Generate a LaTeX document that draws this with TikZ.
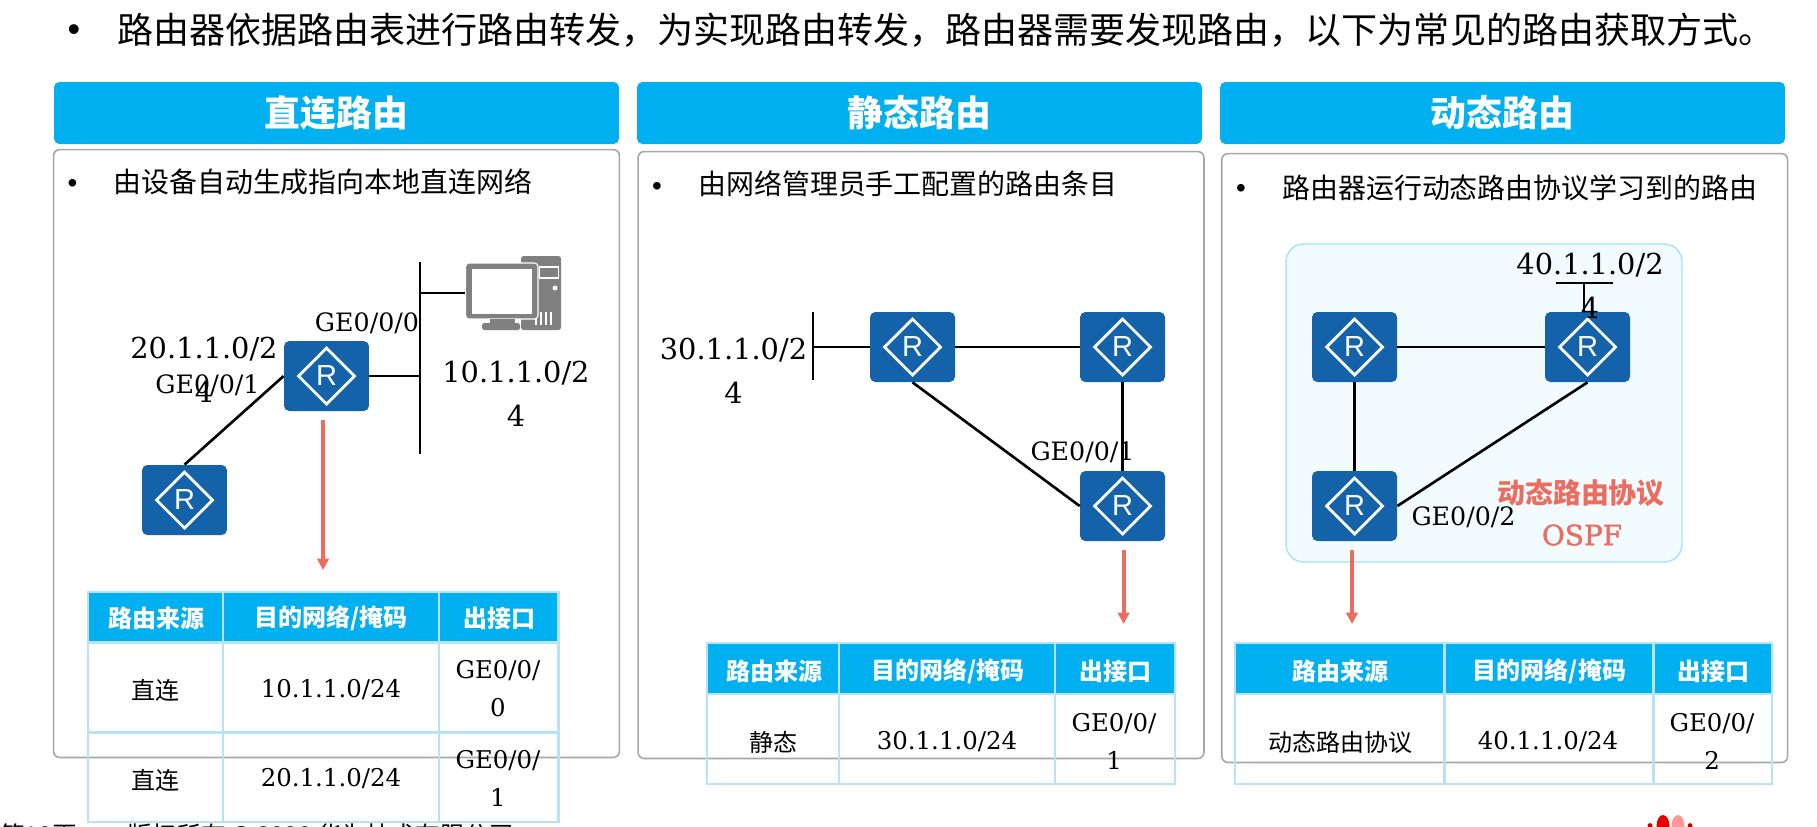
\documentclass[tikz,border=0pt]{standalone}
\usepackage{fontspec}
\usetikzlibrary{arrows.meta}
\setmainfont{DejaVu Serif}
\newfontfamily\cjk{Noto Sans CJK SC}
\newfontfamily\serifheavy[FakeBold=1.5]{DejaVu Serif}
\newfontfamily\arial{Liberation Sans}
\definecolor{headblue}{RGB}{0,176,240}
\definecolor{routerblue}{RGB}{20,99,170}
\definecolor{tabline}{RGB}{183,227,244}
\definecolor{boxgray}{RGB}{166,166,166}
\definecolor{arrowred}{RGB}{236,108,96}
\definecolor{panelfill}{RGB}{242,252,255}
\definecolor{panelline}{RGB}{165,227,248}
\definecolor{pcgray}{RGB}{128,128,128}

\begin{document}
\begin{tikzpicture}[
    x=0.02cm, y=-0.02cm,
    header/.style={fill=headblue, rounded corners=3pt, minimum width=11.3cm, minimum height=1.24cm, inner sep=0pt, text=white, font=\cjk\bfseries\fontsize{20.4}{24}\selectfont},
    panel/.style={draw=boxgray, line width=0.9pt, rounded corners=3.5pt, minimum width=11.32cm, inner sep=0pt},
    router/.style={fill=routerblue, rounded corners=3pt, minimum width=1.7cm, minimum height=1.4cm, inner sep=0pt, text=white, font=\arial\fontsize{16.5}{16}\selectfont,
        path picture={\draw[white, line width=1.6pt, sharp corners] ([yshift=0.56cm]path picture bounding box.center) -- ([xshift=0.56cm]path picture bounding box.center) -- ([yshift=-0.56cm]path picture bounding box.center) -- ([xshift=-0.56cm]path picture bounding box.center) -- cycle;}},
    wire/.style={line width=1.5pt},
    arr/.style={-{Triangle[length=6.5pt,width=6.5pt]}, draw=arrowred, fill=arrowred, line width=2.2pt},
    title/.style={inner sep=0pt, anchor=west, font=\cjk\fontsize{20.5}{24}\selectfont},
    lead/.style={inner sep=0pt, anchor=west, font=\cjk\fontsize{15.9}{19}\selectfont},
    dot/.style={inner sep=0pt, font=\arial\fontsize{15.9}{19}\selectfont},
    net/.style={inner sep=0pt, align=center, font=\fontsize{16.4}{25}\selectfont},
    port/.style={inner sep=0pt, font=\fontsize{14.4}{17}\selectfont},
    thead/.style={inner sep=0pt, text=white, font=\cjk\bfseries\fontsize{13.66}{17}\selectfont},
    tcell/.style={inner sep=0pt, align=center, font=\fontsize{13.9}{21.6}\selectfont},
    tline/.style={draw=tabline, line width=1.3pt},
    foot/.style={inner sep=0pt, anchor=west, font=\cjk\fontsize{14}{17}\selectfont}
]
    \useasboundingbox (0,0) rectangle (1817,826);
    \clip (0,0) rectangle (1817,826);

    % Title
    \node[dot, font=\arial\fontsize{20.5}{24}\selectfont] (topdot) at (74,33) {•};
    \node[title] (toptext) at (117,30) {路由器依据路由表进行路由转发，为实现路由转发，路由器需要发现路由，以下为常见的路由获取方式。};

    % Headers
    \node[header] (head1) at (336.5,113) {直连路由};
    \node[header] (head2) at (919.5,113) {静态路由};
    \node[header] (head3) at (1502.5,113) {动态路由};

    % Panels
    \node[panel, minimum height=12.16cm] (panel1) at (336.5,453.5) {};
    \node[panel, minimum height=12.14cm] (panel2) at (921,455) {};
    \node[panel, minimum height=12.18cm] (panel3) at (1504.7,458) {};

    \node[dot] (dot1) at (72.5,186) {•};
    \node[lead] (lead1) at (113,182) {由设备自动生成指向本地直连网络};
    \node[dot] (dot2) at (657,189) {•};
    \node[lead] (lead2) at (698,184) {由网络管理员手工配置的路由条目};
    \node[dot] (dot3) at (1241,191) {•};
    \node[lead] (lead3) at (1282,188) {路由器运行动态路由协议学习到的路由};

    % OSPF area
    \node[fill=panelfill, draw=panelline, line width=0.8pt, rounded corners=10pt, minimum width=7.92cm, minimum height=6.36cm] (area) at (1484,403) {};

    % Routers
    \node[router] (ra1) at (326.5,376) {R};
    \node[router] (ra2) at (184.5,500) {R};
    \node[router] (rb1) at (912.5,347) {R};
    \node[router] (rb2) at (1122.5,347) {R};
    \node[router] (rb3) at (1122.5,506) {R};
    \node[router] (rc1) at (1354.5,347) {R};
    \node[router] (rc2) at (1587.5,347) {R};
    \node[router] (rc3) at (1354.5,506) {R};

    % PC
    \node[inner sep=0pt, minimum width=1.91cm, minimum height=1.48cm] (pc) at (513.3,293) {};
    \fill[pcgray, rounded corners=1.5pt] (521,256) rectangle (561,330);
    \draw[white, line width=0.7pt] (539.4,267) rectangle (558.5,278);
    \fill[white] (555,288) circle (2.5);
    \foreach \vx in {536,541,546,551} \draw[white, line width=0.6pt] (\vx,312) -- (\vx,325);
    \fill[pcgray, draw=white, line width=0.6pt, rounded corners=2pt] (465.6,263) rectangle (538,319);
    \fill[white] (471.7,269) rectangle (532,314);
    \fill[pcgray] (490,319) rectangle (514.5,324);
    \fill[pcgray, rounded corners=1pt] (482,323) rectangle (520,330);

    % Bus lines
    \coordinate (bus1top) at (420,262);
    \coordinate (bus1bot) at (420,454);
    \coordinate (bus2top) at (813,312);
    \coordinate (bus2bot) at (813,380);
    \coordinate (bus3l) at (1556,283);
    \coordinate (bus3r) at (1613,283);
    \coordinate (bus3stub) at (1584,283);
    \draw[wire] (bus1top) -- (bus1bot);
    \draw[wire] (bus2top) -- (bus2bot);
    \draw[wire] (bus3l) -- (bus3r);

    % Links
    \draw[wire] (ra1.east) -- (ra1.east -| bus1top);
    \draw[wire] (pc.west) -- (pc.west -| bus1top);
    \draw[wire] (ra1.west) -- (ra2.north);
    \draw[wire] (rb1.west) -- (rb1.west -| bus2top);
    \draw[wire] (rb1) -- (rb2);
    \draw[wire] (rb2) -- (rb3);
    \draw[wire] (rb1.south) -- (rb3.west);
    \draw[wire] (rc1) -- (rc2);
    \draw[wire] (rc1) -- (rc3);
    \draw[wire] (rc2.south) -- (rc3.east);
    \draw[wire] (bus3stub) -- (bus3stub |- rc2.north);

    % Arrows
    \coordinate (arra) at (323,420);
    \coordinate (arrb) at (323,570);
    \coordinate (brra) at (1123.6,550);
    \coordinate (brrb) at (1123.6,624);
    \coordinate (crra) at (1352,550);
    \coordinate (crrb) at (1352,624);
    \draw[arr] (arra) -- (arrb);
    \draw[arr] (brra) -- (brrb);
    \draw[arr] (crra) -- (crrb);

    % Network labels
    \node[net] (net20) at (204,370) {20.1.1.0/2\\4};
    \node[net] (net10) at (516,394) {10.1.1.0/2\\4};
    \node[net] (net30) at (733.5,371) {30.1.1.0/2\\4};
    \node[net] (net40) at (1590,286) {40.1.1.0/2\\4};
    \node[port] (ge000) at (367,323) {GE0/0/0};
    \node[port] (ge001a) at (207.5,385) {GE0/0/1};
    \node[port] (ge001b) at (1082.5,452) {GE0/0/1};
    \node[port] (ge002) at (1463.5,517) {GE0/0/2};
    \node[inner sep=0pt, text=arrowred, font=\cjk\bfseries\fontsize{15.9}{19}\selectfont] (proto) at (1581,493) {动态路由协议};
    \node[inner sep=0pt, text=arrowred, font=\serifheavy\fontsize{15.9}{19}\selectfont] (ospf) at (1582,535) {OSPF};

    % Table 1
    \fill[headblue] (88,592) rectangle (558.5,642);
    \draw[tline] (88,592) rectangle (558.5,822) (88,642.5) -- (558.5,642.5) (88,732.5) -- (558.5,732.5) (223,592) -- (223,822) (439,592) -- (439,822);
    \node[thead] (t1a) at (156,618) {路由来源};
    \node[thead] (t1b) at (331,618) {目的网络/掩码};
    \node[thead] (t1c) at (499,618) {出接口};
    \node[tcell, font=\cjk\fontsize{13.66}{17}\selectfont] (t1d) at (155,690) {直连};
    \node[tcell] (t1e) at (331,690) {10.1.1.0/24};
    \node[tcell] (t1f) at (498,689) {GE0/0/\\0};
    \node[tcell, font=\cjk\fontsize{13.66}{17}\selectfont] (t1g) at (155,780) {直连};
    \node[tcell] (t1h) at (331,779) {20.1.1.0/24};
    \node[tcell] (t1i) at (498,778) {GE0/0/\\1};

    % Table 2
    \fill[headblue] (707,643) rectangle (1175,693);
    \draw[tline] (707,643) rectangle (1175,784) (707,694) -- (1175,694) (839,643) -- (839,784) (1055,643) -- (1055,784);
    \node[thead] (t2a) at (774,671) {路由来源};
    \node[thead] (t2b) at (948,671) {目的网络/掩码};
    \node[thead] (t2c) at (1115,671) {出接口};
    \node[tcell, font=\cjk\fontsize{13.66}{17}\selectfont] (t2d) at (773,742) {静态};
    \node[tcell] (t2e) at (947,742) {30.1.1.0/24};
    \node[tcell] (t2f) at (1114,741) {GE0/0/\\1};

    % Table 3
    \fill[headblue] (1235,643) rectangle (1772,693);
    \draw[tline] (1235,643) rectangle (1772,784) (1235,694) -- (1772,694) (1444.5,643) -- (1444.5,784) (1653.5,643) -- (1653.5,784);
    \node[thead] (t3a) at (1340.5,671) {路由来源};
    \node[thead] (t3b) at (1549.5,671) {目的网络/掩码};
    \node[thead] (t3c) at (1713,671) {出接口};
    \node[tcell, font=\cjk\fontsize{13.66}{17}\selectfont] (t3d) at (1340,742) {动态路由协议};
    \node[tcell] (t3e) at (1548,742) {40.1.1.0/24};
    \node[tcell] (t3f) at (1712,741) {GE0/0/\\2};

    % Footer
    \node[foot] (page) at (0,835) {第10页};
    \node[foot] (copy) at (127,835) {版权所有 © 2020 华为技术有限公司};
    \fill[red!90!black] (1663,826) ellipse (6.5 and 11);
    \fill[red!40!white] (1678,826) ellipse (6.5 and 11);
    \fill[red!80!black] (1650,826) ellipse (2.5 and 3);
    \fill[red!80!black] (1690,826) ellipse (2.5 and 3);
\end{tikzpicture}
\end{document}
